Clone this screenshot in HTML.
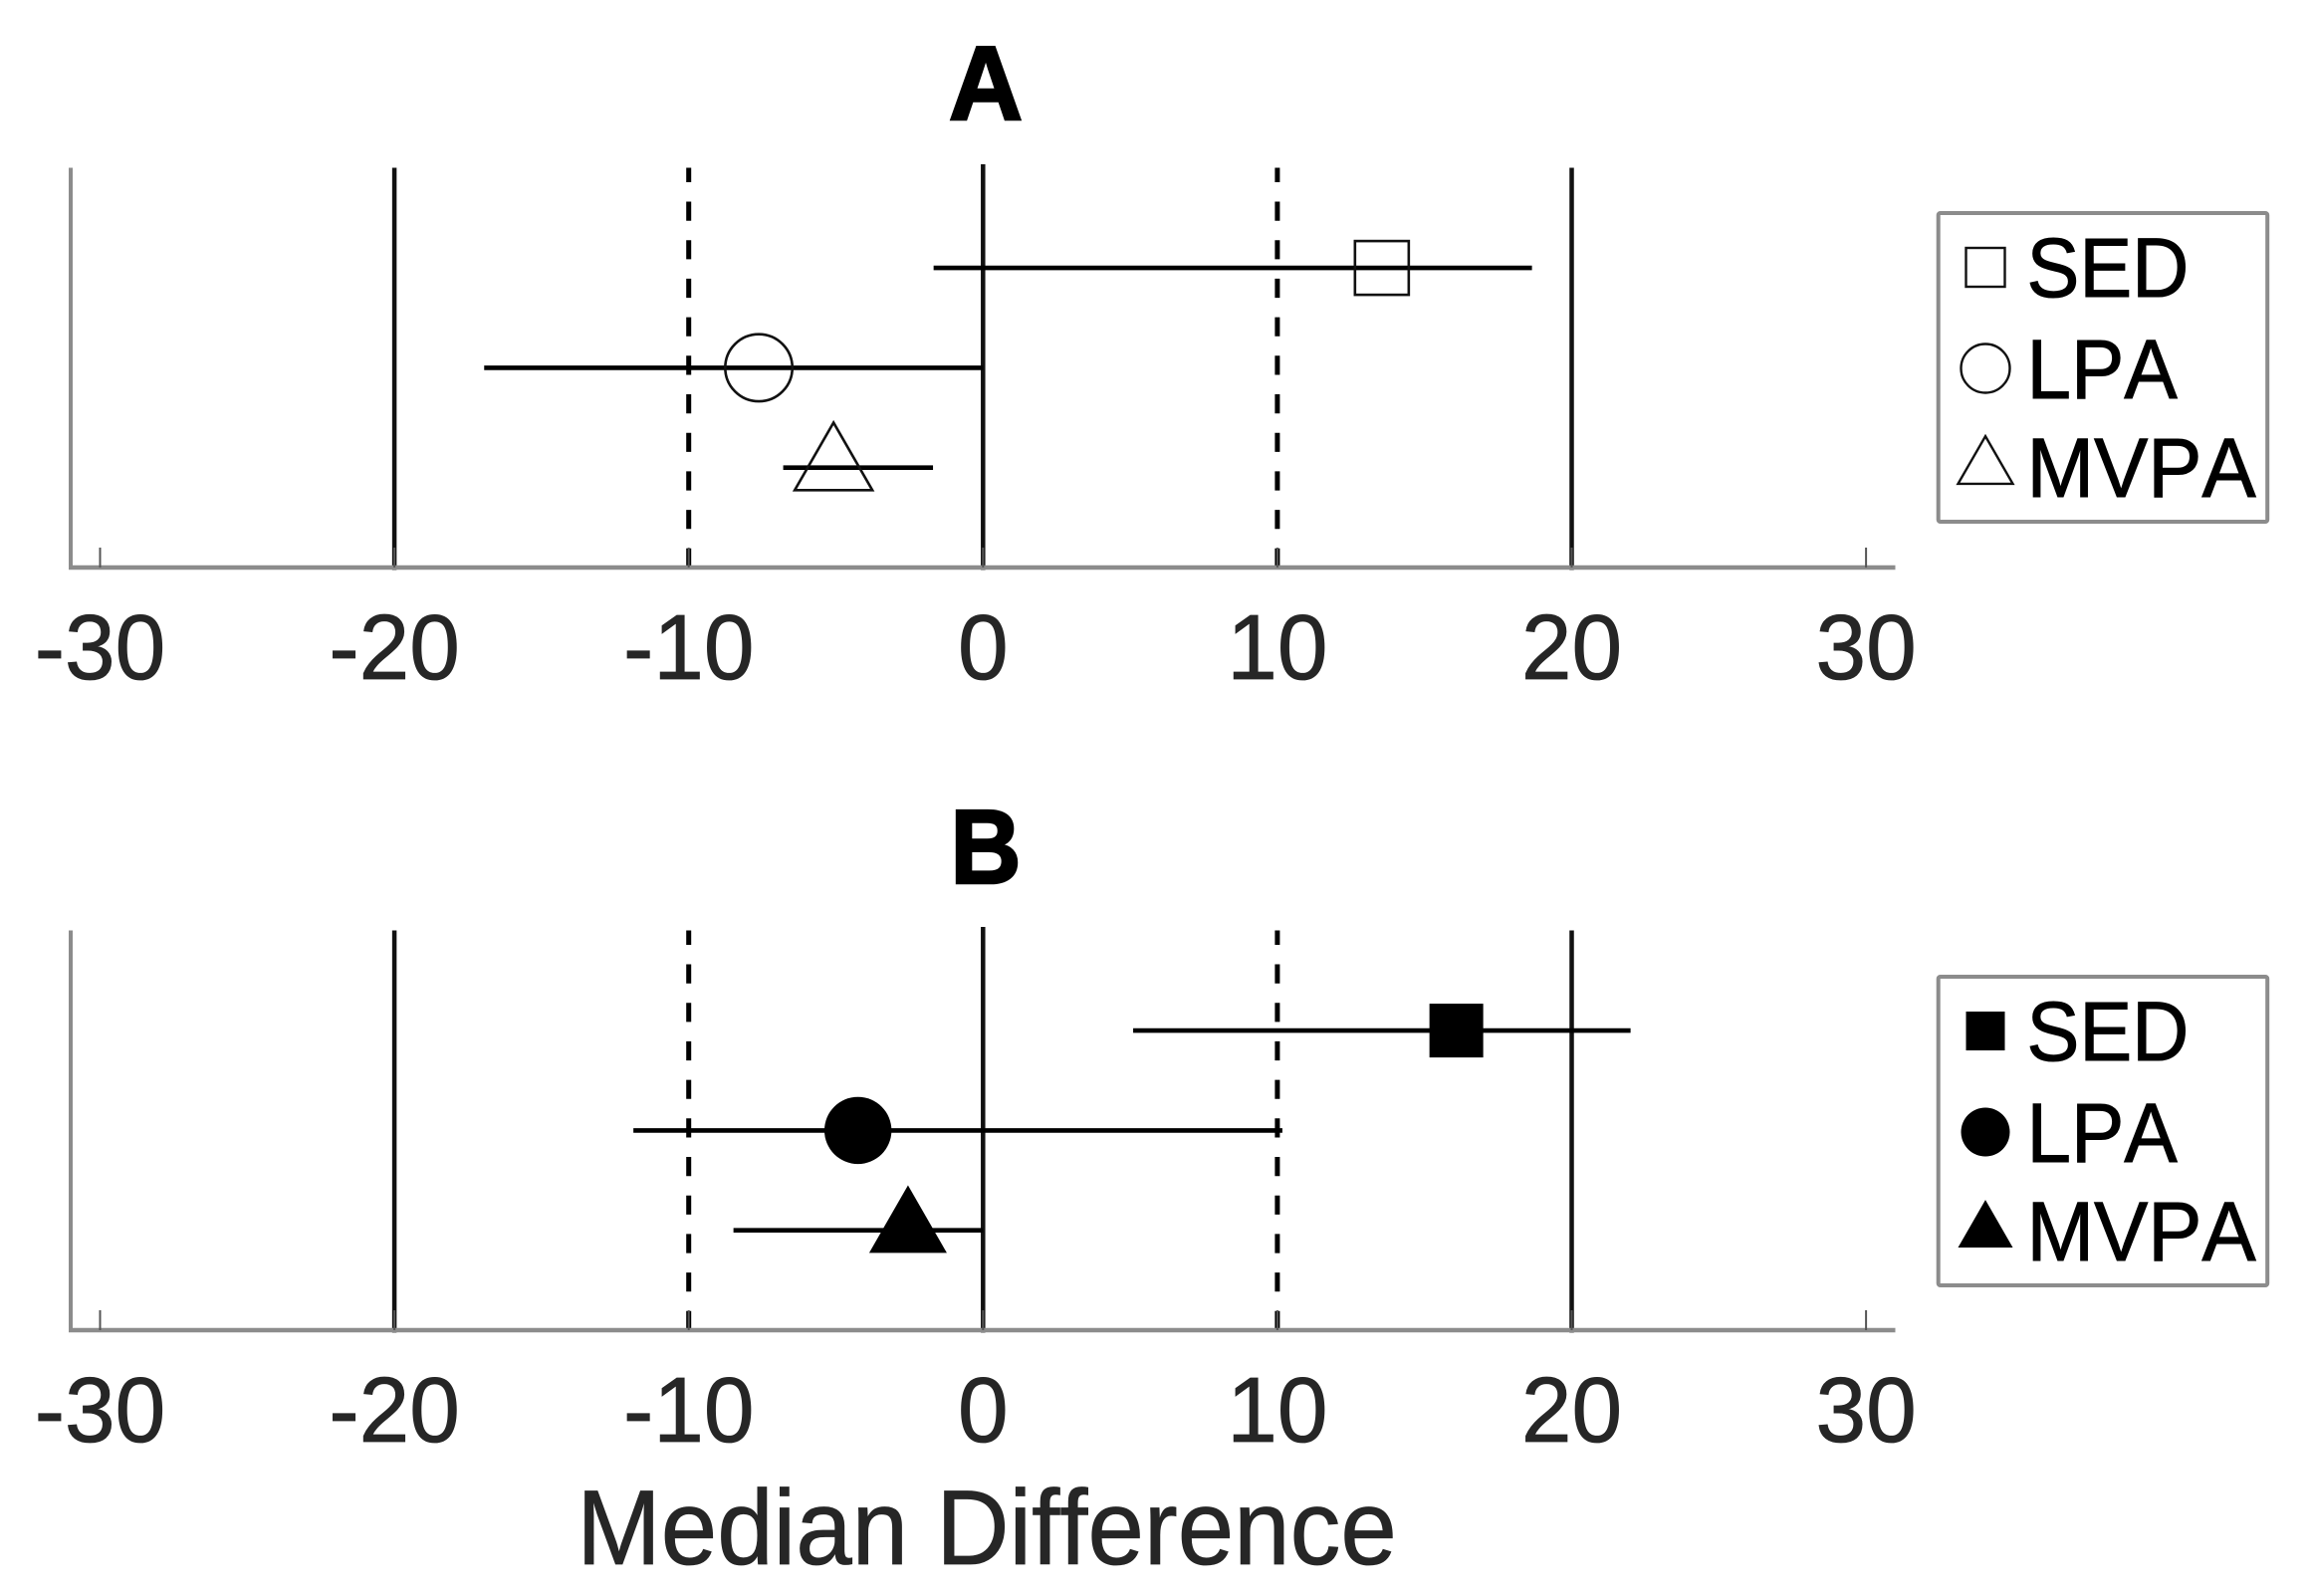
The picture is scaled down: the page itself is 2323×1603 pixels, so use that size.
<!DOCTYPE html>
<html lang="en">
<head>
<meta charset="utf-8">
<title>Median Difference forest plots</title>
<style>
html,body{margin:0;padding:0;background:#fff;}
svg{display:block;}
text{font-family:"Liberation Sans",Arial,sans-serif;font-kerning:none;font-variant-ligatures:none;}
</style>
</head>
<body>
<svg id="chart" xmlns="http://www.w3.org/2000/svg" width="2323" height="1603" viewBox="0 0 2323 1603">
<rect x="0" y="0" width="2323" height="1603" fill="#fff"/>
</svg>
<script>
const categories = ['SED', 'LPA', 'MVPA'];
const panelAMedian = [13.55, -7.62, -5.08];
const panelALow = [-1.68, -16.95, -6.79];
const panelAHigh = [18.65, 0, -1.70];
const panelBMedian = [16.08, -4.25, -2.55];
const panelBLow = [5.1, -11.88, -8.48];
const panelBHigh = [22.0, 10.17, 0];
const tickValues = [-30, -20, -10, 0, 10, 20, 30];
const tickLabels = ['-30', '-20', '-10', '0', '10', '20', '30'];
const solidRefs = [-20, 0, 20];
const dashedRefs = [-10, 10];

const NS = 'http://www.w3.org/2000/svg';
const svg = document.getElementById('chart');
const GRAY = '#8c8c8c';
function xScale(v) { return 987.3 + 29.56 * v; }
function yScale(axisY, i) { return axisY - (categories.length - i) * 100.3; }
function make(parent, tag, props) {
  const el = document.createElementNS(NS, tag);
  for (const k in props) el.setAttribute(k, props[k]);
  parent.appendChild(el);
  return el;
}
function label(parent, str, x, y, size, fill, anchor, weight, sx, sy, sw) {
  const el = make(parent, 'text', {
    transform: 'translate(' + x + ',' + y + ') scale(' + sx + ',' + sy + ')',
    'font-size': size, fill: fill, 'text-anchor': anchor, 'font-weight': weight,
    stroke: fill, 'stroke-width': sw
  });
  el.textContent = str;
  return el;
}
function marker(parent, kind, cx, cy, size, filled, sw) {
  const fill = filled ? '#000' : 'none';
  const stroke = '#111';
  if (kind === 0) {
    return make(parent, 'rect', { x: cx - size, y: cy - size, width: size * 2, height: size * 2, fill: fill, stroke: stroke, 'stroke-width': filled ? 0 : sw });
  }
  if (kind === 1) {
    return make(parent, 'circle', { cx: cx, cy: cy, r: size, fill: fill, stroke: stroke, 'stroke-width': filled ? 0 : sw });
  }
  const hw = size, up = size * 1.16, down = size * 0.58;
  return make(parent, 'polygon', {
    points: (cx) + ',' + (cy - up) + ' ' + (cx + hw) + ',' + (cy + down) + ' ' + (cx - hw) + ',' + (cy + down),
    fill: fill, stroke: stroke, 'stroke-width': filled ? 0 : sw, 'stroke-linejoin': 'miter'
  });
}

function drawPanel(id, title, axisY, titleY, titleSx, medians, lows, highs, filled, legendTop, legendBase) {
  const g = make(svg, 'g', {});
  
  
  const top = axisY - 401.5;

  const t = label(g, title, 990, titleY, 106, '#000', 'middle', 'bold', titleSx, 1, 2.5);
  
  

  solidRefs.forEach(function (v) {
    const l = make(g, 'line', { x1: xScale(v), x2: xScale(v), y1: v === 0 ? top - 3.5 : top, y2: axisY + 2.5, stroke: '#111', 'stroke-width': 4.5 });
    
    
  });
  dashedRefs.forEach(function (v) {
    const l = make(g, 'line', { x1: xScale(v), x2: xScale(v), y1: axisY, y2: top, stroke: '#000', 'stroke-width': 5, 'stroke-dasharray': '19.2 19.5' });
    
    
  });

  const yAxis = make(g, 'line', { x1: 71, x2: 71, y1: top, y2: axisY + 2, stroke: GRAY, 'stroke-width': 4 });
  
  
  const xAxis = make(g, 'line', { x1: 69, x2: 1903.5, y1: axisY, y2: axisY, stroke: GRAY, 'stroke-width': 4.5 });
  
  

  tickValues.forEach(function (v, i) {
    const tick = make(g, 'line', { x1: xScale(v), x2: xScale(v), y1: axisY - 20, y2: axisY, stroke: '#555', 'stroke-width': 2 });
    
    
    const tl = label(g, tickLabels[i], xScale(v), axisY + 112, 91, '#262626', 'middle', 'normal', 1, 1.02, 0.8);
    
    
  });

  categories.forEach(function (name, i) {
    const y = yScale(axisY, i);
    const ci = make(g, 'line', { x1: xScale(lows[i]), x2: xScale(highs[i]), y1: y, y2: y, stroke: '#000', 'stroke-width': 4.6 });
    
    
    const size = i === 0 ? 27 : i === 1 ? 33.7 : 39;
    const m = marker(g, i, xScale(medians[i]), y, size, filled, 2.6);
    
    
  });

  const lg = make(g, 'g', {});
  
  
  const box = make(lg, 'rect', { x: 1946.7, y: legendTop, width: 330.5, height: 310, rx: 2, fill: '#fff', stroke: GRAY, 'stroke-width': 4 });
  
  
  const msize = [19.5, 24.5, 27.5];
  const moff = [-29.5, -30, -29];
  const labelStretch = [0.99, 1, 1.015];
  categories.forEach(function (name, i) {
    const base = legendBase[i];
    const lm = marker(lg, i, 1994, base + moff[i], msize[i], filled, 2.4);
    
    
    const lt = label(lg, name, 2035.5, base, 80, '#000', 'start', 'normal', labelStretch[i], 1.05, 1);
    
    
  });
}

drawPanel('a', 'A', 570, 120, 0.97, panelAMedian, panelALow, panelAHigh, false, 214, [298, 400, 499]);
drawPanel('b', 'B', 1336, 887, 0.93, panelBMedian, panelBLow, panelBHigh, true, 981, [1065, 1167, 1266]);

const xTitle = label(svg, 'Median Difference', 991, 1571, 100, '#262626', 'middle', 'normal', 1.015, 1.07, 0.8);


</script>
</body>
</html>
